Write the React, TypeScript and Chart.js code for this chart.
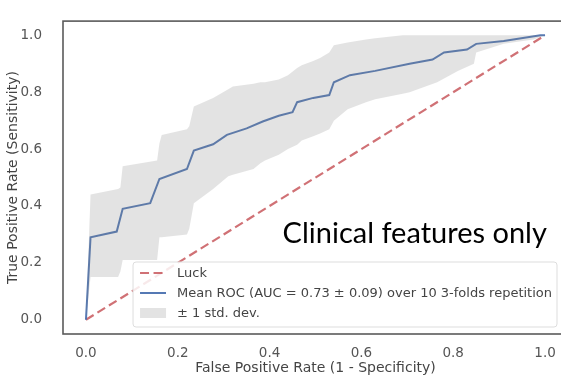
import React, { useEffect, useRef } from "react";
import { Chart, registerables } from "chart.js";

Chart.register(...registerables);

// Mean ROC curve
const meanFpr = [0, 0.01, 0.067, 0.08, 0.14, 0.16, 0.22, 0.235, 0.277, 0.307, 0.35, 0.385, 0.42, 0.45, 0.46, 0.495, 0.53, 0.54, 0.575, 0.63, 0.705, 0.755, 0.78, 0.83, 0.85, 0.91, 0.99, 1.0];
const meanTpr = [0, 0.29, 0.31, 0.39, 0.41, 0.495, 0.53, 0.595, 0.617, 0.65, 0.673, 0.697, 0.717, 0.73, 0.765, 0.78, 0.79, 0.835, 0.86, 0.875, 0.9, 0.915, 0.94, 0.95, 0.97, 0.98, 1.0, 1.0];

// ±1 std band
const bandFpr = [0, 0.01, 0.07, 0.075, 0.08, 0.155, 0.16, 0.165, 0.22, 0.225, 0.235, 0.277, 0.31, 0.32, 0.365, 0.38, 0.39, 0.42, 0.44, 0.46, 0.47, 0.495, 0.51, 0.53, 0.54, 0.57, 0.61, 0.63, 0.69, 0.705, 0.765, 0.81, 0.845, 0.85, 0.91, 0.975, 1.0];
const bandUpper = [0, 0.44, 0.46, 0.465, 0.54, 0.56, 0.62, 0.65, 0.67, 0.68, 0.75, 0.78, 0.81, 0.82, 0.83, 0.835, 0.835, 0.845, 0.86, 0.885, 0.895, 0.91, 0.92, 0.94, 0.965, 0.975, 0.985, 0.99, 1.0, 1.0, 1.0, 1.0, 1.0, 1.0, 1.0, 1.0, 1.0];
const bandLower = [0, 0.15, 0.15, 0.17, 0.21, 0.21, 0.29, 0.29, 0.3, 0.32, 0.41, 0.46, 0.505, 0.51, 0.53, 0.55, 0.56, 0.58, 0.6, 0.615, 0.63, 0.645, 0.655, 0.67, 0.7, 0.74, 0.765, 0.775, 0.795, 0.8, 0.835, 0.875, 0.9, 0.94, 0.97, 0.985, 1.0];

// Chance line
const luckFpr = [0, 1];
const luckTpr = [0, 1];

const tickValues = [0, 0.2, 0.4, 0.6, 0.8, 1.0];
const legendLabels = ["Luck", "Mean ROC (AUC = 0.73 \u00b1 0.09) over 10 3-folds repetition", "\u00b1 1 std. dev."];
const annotationText = "Clinical features only";

const xy = (xs: number[], ys: number[]) => xs.map((x, i) => ({ x, y: ys[i] }));

const BLUE = "rgba(76,114,176,0.95)";
const RED = "rgba(196,78,82,0.8)";
const GREY = "rgba(128,128,128,0.22)";
const FONT = "'DejaVu Sans', sans-serif";
const DASH = [9, 4.5];

const framePlugin = {
  id: "frameAndLegend",
  afterDraw(chart: any) {
    const { ctx, chartArea } = chart;
    const { left, right, top, bottom } = chartArea;
    ctx.save();
    ctx.strokeStyle = "#5a5a5a";
    ctx.lineWidth = 1.6;
    ctx.strokeRect(left, top, right - left, bottom - top);

    // legend
    ctx.font = `13px ${FONT}`;
    const textW = Math.max(...legendLabels.map((t) => ctx.measureText(t).width));
    const padX = 7;
    const handle = 26;
    const gap = 11;
    const boxW = padX + handle + gap + textW + 5;
    const boxH = 65;
    const bx = right - 11 - boxW;
    const by = bottom - 7 - boxH;
    ctx.fillStyle = "rgba(255,255,255,0.85)";
    ctx.strokeStyle = "#dddddd";
    ctx.lineWidth = 1;
    ctx.beginPath();
    (ctx as any).roundRect(bx, by, boxW, boxH, 3);
    ctx.fill();
    ctx.stroke();
    const rows = [by + 11, by + 31, by + 51];
    const hx = bx + padX;
    // luck
    ctx.strokeStyle = RED;
    ctx.lineWidth = 2.2;
    ctx.setLineDash(DASH);
    ctx.beginPath();
    ctx.moveTo(hx, rows[0]);
    ctx.lineTo(hx + handle, rows[0]);
    ctx.stroke();
    ctx.setLineDash([]);
    // mean
    ctx.strokeStyle = BLUE;
    ctx.lineWidth = 2;
    ctx.beginPath();
    ctx.moveTo(hx, rows[1]);
    ctx.lineTo(hx + handle, rows[1]);
    ctx.stroke();
    // band
    ctx.fillStyle = GREY;
    ctx.fillRect(hx, rows[2] - 5, handle, 10);
    ctx.fillStyle = "#444";
    ctx.textBaseline = "middle";
    ctx.textAlign = "left";
    legendLabels.forEach((t, i) => ctx.fillText(t, hx + handle + gap, rows[i] + 1));

    // annotation
    const xs = chart.scales.x;
    const ys = chart.scales.y;
    ctx.font = "29px Lato, 'Open Sans', sans-serif";
    ctx.fillStyle = "#000";
    ctx.textAlign = "right";
    ctx.textBaseline = "alphabetic";
    ctx.fillText(annotationText, xs.getPixelForValue(1.004), ys.getPixelForValue(0.27));
    ctx.restore();
  },
};

export default function App() {
  const ref = useRef<HTMLCanvasElement>(null);
  useEffect(() => {
    if (!ref.current) return;
    const chart = new Chart(ref.current, {
      type: "line",
      data: {
        datasets: [
          {
            label: legendLabels[0],
            data: xy(luckFpr, luckTpr),
            borderColor: RED,
            borderWidth: 2.2,
            borderDash: DASH,
            pointRadius: 0,
            fill: false,
            order: 3,
          },
          {
            label: legendLabels[1],
            data: xy(meanFpr, meanTpr),
            borderColor: BLUE,
            borderWidth: 2,
            pointRadius: 0,
            fill: false,
            tension: 0,
            order: 2,
          },
          {
            label: "upper",
            data: xy(bandFpr, bandUpper),
            borderWidth: 0,
            borderColor: "rgba(0,0,0,0)",
            backgroundColor: GREY,
            pointRadius: 0,
            fill: "+1",
            order: 1,
          },
          {
            label: legendLabels[2],
            data: xy(bandFpr, bandLower),
            borderWidth: 0,
            borderColor: "rgba(0,0,0,0)",
            pointRadius: 0,
            fill: false,
            order: 1,
          },
        ],
      },
      options: {
        animation: false,
        responsive: false,
        layout: { padding: { top: 9, right: 4, left: 0, bottom: 0 } },
        plugins: { legend: { display: false }, tooltip: { enabled: false } },
        scales: {
          x: {
            type: "linear",
            min: -0.05,
            max: 1.05,
            afterBuildTicks: (s: any) => {
              s.ticks = tickValues.map((v) => ({ value: v }));
            },
            afterFit: (s: any) => {
              s.height = 47;
            },
            ticks: {
              color: "#555",
              font: { family: FONT, size: 13.5 },
              padding: 3,
              callback: (v: any) => Number(v).toFixed(1),
            },
            grid: { display: false },
            border: { display: false },
            title: {
              display: true,
              text: "False Positive Rate (1 - Specificity)",
              color: "#444",
              font: { family: FONT, size: 14 },
              padding: { top: 0, bottom: 4 },
            },
          },
          y: {
            type: "linear",
            min: -0.05,
            max: 1.05,
            afterBuildTicks: (s: any) => {
              s.ticks = tickValues.map((v) => ({ value: v }));
            },
            afterFit: (s: any) => {
              s.width = 63;
            },
            ticks: {
              color: "#555",
              font: { family: FONT, size: 13.5 },
              padding: 13,
              callback: (v: any) => Number(v).toFixed(1),
            },
            grid: { display: false },
            border: { display: false },
            title: {
              display: true,
              text: "True Positive Rate (Sensitivity)",
              color: "#444",
              font: { family: FONT, size: 14 },
              padding: { top: 5, bottom: 0 },
            },
          },
        },
      },
      plugins: [framePlugin],
    });
    return () => chart.destroy();
  }, []);

  return (
    <div style={{ position: "fixed", left: 0, top: 0, width: 561, height: 381, overflow: "hidden", background: "#fff" }}>
      <canvas ref={ref} width={572} height={381} style={{ display: "block" }} />
    </div>
  );
}
